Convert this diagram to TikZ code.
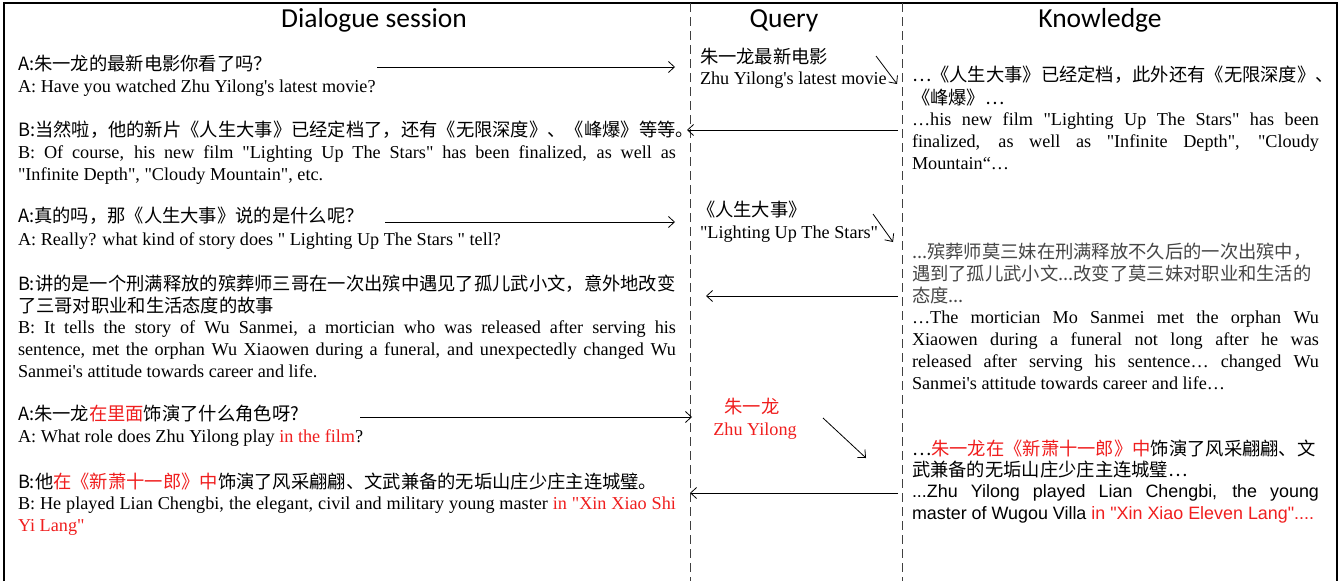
\documentclass[tikz,border=0pt]{standalone}
\usepackage{fontspec}
\setmainfont{Liberation Serif}[Ligatures=TeXOff]
\newfontfamily\cjk{Noto Sans CJK SC}
\newfontfamily\hdfont{Carlito}
\newfontfamily\sansfnt{Liberation Sans}
\usetikzlibrary{arrows.meta}
\definecolor{myred}{RGB}{240,30,30}
\definecolor{kgray}{RGB}{70,70,70}
\newcommand{\lat}{\fontsize{18.2}{22}\selectfont}
\newcommand{\zh}{\cjk\fontsize{18.3}{22}\selectfont}
\newcommand{\jd}[1]{\makebox[658pt][s]{#1}}
\newcommand{\jk}[1]{\makebox[407pt][s]{#1}}
\newcommand{\rd}[1]{\textcolor{myred}{#1}}
\begin{document}
\begin{tikzpicture}[x=1pt,y=-1pt,
  ln/.style={anchor=base west, inner sep=0pt, outer sep=0pt, font=\lat},
  zl/.style={anchor=base west, inner sep=0pt, outer sep=0pt, font=\zh},
  hd/.style={anchor=base, inner sep=0pt, font=\hdfont\fontsize{27.5}{30}\selectfont},
  arr/.style={-{Straight Barb[length=6pt,width=11pt]}, line width=0.8pt},
  sep/.style={dash pattern=on 9pt off 5pt, line width=0.9pt, draw=black!75},
]
\useasboundingbox (0,0) rectangle (1341,581);
\fill[white] (0,0) rectangle (1341,581);
\draw[line width=2.2pt] (4,581) -- (4,3) -- (1337,3) -- (1337,581);
\draw[sep] (690,3) -- (690,581);
\draw[sep] (902,3) -- (902,581);

% headers
\node[hd] (hD) at (374,27) {Dialogue session};
\node[hd] (hQ) at (784,27) {Query};
\node[hd] (hK) at (1100,27) {Knowledge};

% dialogue
\node[zl] (d1) at (18,70) {A:朱一龙的最新电影你看了吗？};
\node[ln] (d2) at (18,92) {A: Have you watched Zhu Yilong's latest movie?};
\node[zl] (d3) at (18,136) {B:当然啦，他的新片《人生大事》已经定档了，还有《无限深度》、《峰爆》等等。};
\node[ln] (d4) at (18,158) {\jd{B: Of course, his new film "Lighting Up The Stars" has been finalized, as well as}};
\node[ln] (d5) at (18,180) {"Infinite Depth", "Cloudy Mountain", etc.};
\node[zl] (d6) at (18,222) {A:真的吗，那《人生大事》说的是什么呢？};
\node[ln] (d7) at (18,245) {A: Really? what kind of story does " Lighting Up The Stars " tell?};
\node[zl] (d8) at (18,290) {{\lat B:}讲的是一个刑满释放的殡葬师三哥在一次出殡中遇见了孤儿武小文，意外地改变};
\node[zl] (d9) at (18,312) {了三哥对职业和生活态度的故事};
\node[ln] (d10) at (18,333) {\jd{B: It tells the story of Wu Sanmei, a mortician who was released after serving his}};
\node[ln] (d11) at (18,355) {\jd{sentence, met the orphan Wu Xiaowen during a funeral, and unexpectedly changed Wu}};
\node[ln] (d12) at (18,377) {Sanmei's attitude towards career and life.};
\node[zl] (d13) at (18,420) {{\lat A:}朱一龙\rd{在里面}饰演了什么角色呀?};
\node[ln] (d14) at (18,442) {A: What role does Zhu Yilong play \rd{in the film}?};
\node[zl] (d15) at (18,488) {{\lat B:}他\rd{在《新萧十一郎》中}饰演了风采翩翩、文武兼备的无垢山庄少庄主连城璧。};
\node[ln] (d16) at (18,509) {\jd{B: He played Lian Chengbi, the elegant, civil and military young master \rd{in "Xin Xiao Shi}}};
\node[ln] (d17) at (18,531) {\rd{Yi Lang"}};

% query
\node[zl] (q1) at (700,63) {朱一龙最新电影};
\node[ln] (q2) at (700,84) {Zhu Yilong's latest movie};
\node[zl] (q3) at (697,216) {《人生大事》};
\node[ln] (q4) at (700,238) {"Lighting Up The Stars"};
\node[zl, anchor=base, text=myred] (q5) at (752,413) {朱一龙};
\node[ln, anchor=base, text=myred] (q6) at (755,435) {Zhu Yilong};

% knowledge
\node[zl] (k1) at (912,81) {{\lat …}《人生大事》已经定档，此外还有《无限深度》、};
\node[zl] (k2) at (912,104) {《峰爆》{\lat …}};
\node[ln] (k3) at (912,125) {\jk{…his new film "Lighting Up The Stars" has been}};
\node[ln] (k4) at (912,147) {\jk{finalized, as well as "Infinite Depth", "Cloudy}};
\node[ln] (k5) at (912,169) {Mountain“…};
\node[zl, text=kgray] (k6) at (912,258) {...殡葬师莫三妹在刑满释放不久后的一次出殡中，};
\node[zl, text=kgray] (k7) at (912,280) {遇到了孤儿武小文...改变了莫三妹对职业和生活的};
\node[zl, text=kgray] (k8) at (912,302) {态度...};
\node[ln] (k9) at (912,323) {\jk{…The mortician Mo Sanmei met the orphan Wu}};
\node[ln] (k10) at (912,345) {\jk{Xiaowen during a funeral not long after he was}};
\node[ln] (k11) at (912,367) {\jk{released after serving his sentence… changed Wu}};
\node[ln] (k12) at (912,389) {Sanmei's attitude towards career and life…};
\node[zl] (k13) at (912,455) {{\lat …}\rd{朱一龙在《新萧十一郎》中}饰演了风采翩翩、文};
\node[zl] (k14) at (912,476) {武兼备的无垢山庄少庄主连城璧…};
\node[ln, font=\sansfnt\fontsize{17.9}{22}\selectfont] (k15) at (912,497) {\jk{...Zhu Yilong played Lian Chengbi, the young}};
\node[ln, font=\sansfnt\fontsize{17.9}{22}\selectfont] (k16) at (912,519) {master of Wugou Villa \rd{in "Xin Xiao Eleven Lang"....}};

% connectors
\coordinate (a1s) at (377,67);  \coordinate (a1e) at (675,67);
\coordinate (a2s) at (898,130); \coordinate (a2e) at (687,130);
\coordinate (a3s) at (876,56);  \coordinate (a3e) at (897,84);
\coordinate (a4s) at (385,222); \coordinate (a4e) at (675,222);
\coordinate (a5s) at (873,214); \coordinate (a5e) at (893,242);
\coordinate (a6s) at (898,296); \coordinate (a6e) at (706,296);
\coordinate (a7s) at (360,417); \coordinate (a7e) at (692,417);
\coordinate (a8s) at (823,418); \coordinate (a8e) at (866,458);
\coordinate (a9s) at (898,493); \coordinate (a9e) at (690,493);
\foreach \i in {1,...,9} {\draw[arr] (a\i s) -- (a\i e);}
\end{tikzpicture}
\end{document}
